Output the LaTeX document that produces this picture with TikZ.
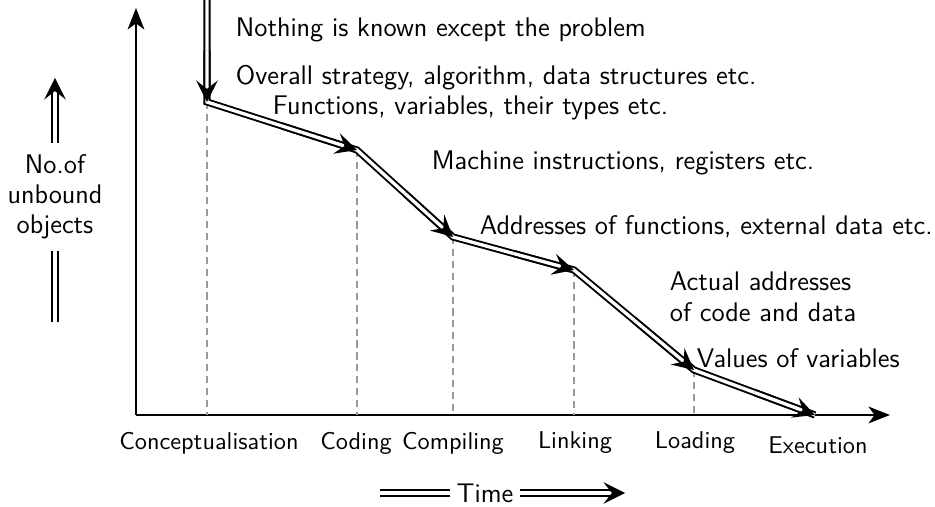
\documentclass[tikz,border=0pt]{standalone}
\usepackage{tikz}
\usetikzlibrary{arrows.meta,positioning,calc}
\tikzset{
	axis/.style={line width=1.1pt,-{Stealth[length=9pt,width=7pt,inset=2.5pt]}},
	bind/.style={double,double distance=1.4pt,line width=0.8pt,line join=miter},
	dirbind/.style={bind,-{Stealth[length=9pt,width=9pt,inset=3.5pt]}},
	guide/.style={gray!80,dash pattern=on 3pt off 2pt,line width=0.8pt},
	stage/.style={font=\sffamily\fontsize{10.2pt}{12pt}\selectfont, text centered, inner sep=1pt},
	note/.style={font=\sffamily\fontsize{11.3pt}{13pt}\selectfont, anchor=west, inner sep=1pt}
}
\begin{document}
\begin{tikzpicture}[x=0.42pt,y=-0.42pt]
	\useasboundingbox (0,0) rectangle (935,507);
	%%% axes
	\coordinate (o) at (136,415);
	\coordinate (ytop) at (136,8);
	\coordinate (xend) at (890,415);
	\draw[axis] (o) -- (ytop);
	\draw[axis] (o) -- (xend);

	%%% binding points
	\coordinate (s0) at (207,0);
	\coordinate (s1) at (207,102);
	\coordinate (s2) at (357,150);
	\coordinate (s3) at (453,237);
	\coordinate (s4) at (574,270);
	\coordinate (s5) at (694,370);
	\coordinate (s6) at (815,415);

	\foreach \p in {s1,s2,s3,s4,s5}
		\draw[guide] (\p) -- (\p |- o);

	\draw[bind] (s0) -- (s1) -- (s2) -- (s3) -- (s4) -- (s5) -- (s6);
	\draw[dirbind] ($(s0)!0.5!(s1)$) -- (s1);
	\draw[dirbind] ($(s1)!0.5!(s2)$) -- (s2);
	\draw[dirbind] ($(s2)!0.5!(s3)$) -- (s3);
	\draw[dirbind] ($(s3)!0.5!(s4)$) -- (s4);
	\draw[dirbind] ($(s4)!0.5!(s5)$) -- (s5);
	\draw[dirbind] ($(s5)!0.5!(s6)$) -- (s6);

	%%% stages
	\node[stage] (c1) at (209,443) {Conceptualisation};
	\node[stage] (c2) at (356,443) {Coding};
	\node[stage] (c3) at (453,443) {Compiling};
	\node[stage] (c4) at (575,443) {Linking};
	\node[stage] (c5) at (695,443) {Loading};
	\node[stage] (c6) at (818,445) {Execution};

	%%% what gets bound
	\node[note] (n0) at (233,30) {Nothing is known except the problem};
	\node[note] (n1) at (233,78) {Overall strategy, algorithm, data structures etc.};
	\node[note] (n2) at (270,108) {Functions, variables, their types etc.};
	\node[note] (n3) at (429,163) {Machine instructions, registers etc.};
	\node[note] (n4) at (477,227) {Addresses of functions, external data etc.};
	\node[note,align=left] (n5) at (667,297) {Actual addresses\\of code and data};
	\node[note] (n6) at (694,358) {Values of variables};

	%%% y label
	\node[stage,align=center,font=\sffamily\fontsize{11.3pt}{12.5pt}\selectfont] (ylab) at (55,197) {No.of\\unbound\\objects};
	\coordinate (yup) at (55,78);
	\coordinate (ydown) at (55,322);
	\draw[dirbind,shorten <=4pt] (ylab.north) -- (yup);
	\draw[bind,shorten <=4pt] (ylab.south) -- (ydown);

	%%% x label
	\node[stage,inner sep=2.5pt,font=\sffamily\fontsize{11.3pt}{13pt}\selectfont] (tlab) at (485,493) {Time};
	\coordinate (tleft) at (380,493);
	\coordinate (tright) at (625,493);
	\draw[bind] (tlab.west) -- (tleft);
	\draw[dirbind] (tlab.east) -- (tright);
\end{tikzpicture}
\end{document}
